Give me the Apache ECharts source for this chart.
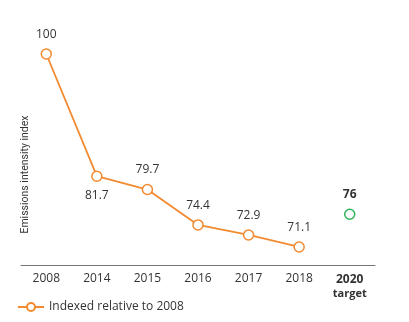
<!DOCTYPE html>
<html><head><meta charset="utf-8">
<script src="https://cdn.jsdelivr.net/npm/echarts@6/dist/echarts.min.js"></script>
<style>html,body{margin:0;padding:0;background:#fff}#c{width:409px;height:322px}</style>
</head><body><div id="c"></div>
<script>
const categories = ['2008','2014','2015','2016','2017','2018','2020'];
const indexedValues = [100, 81.7, 79.7, 74.4, 72.9, 71.1, null];
const targetValues = [null, null, null, null, null, null, 76];
const seriesName = 'Indexed relative to 2008';
const yAxisName = 'Emissions intensity index';

const FONT = 'Open Sans';
const chart = echarts.init(document.getElementById('c'));
chart.setOption({
  animation: false,
  grid: {left: 21, right: 34, top: 54, bottom: 57},
  legend: {
    data: [seriesName], left: 12, top: 296, itemWidth: 26, itemHeight: 10,
    textStyle: {fontFamily: FONT, fontSize: 12, color: '#333'}
  },
  xAxis: {
    type: 'category', data: categories, boundaryGap: true,
    axisLine: {lineStyle: {color: '#777', width: 1}},
    axisTick: {show: false},
    axisLabel: {
      interval: 0,
      fontFamily: FONT, fontSize: 12, color: '#333', margin: 8,
      formatter: (v) => v === '2020' ? '{b|2020}\n{t|target}' : v,
      rich: {
        b: {fontFamily: FONT, fontSize: 12, fontWeight: 'bold', color: '#333', lineHeight: 14},
        t: {fontFamily: FONT, fontSize: 11, fontWeight: 'bold', color: '#333', lineHeight: 13}
      }
    }
  },
  yAxis: {
    type: 'value', min: 68.4, max: 100,
    name: yAxisName, nameLocation: 'middle', nameGap: -10, nameRotate: 90,
    nameTextStyle: {fontFamily: 'Roboto', fontSize: 10.5, color: '#333', verticalAlign: 'bottom', padding: [0, 30, 0, 0]},
    axisLine: {show: false}, axisTick: {show: false}, axisLabel: {show: false},
    splitLine: {show: false}
  },
  series: [
    {
      name: seriesName, type: 'line',
      data: indexedValues.map((v, i) => ({
        value: v,
        label: i === 1 ? {position: 'bottom', distance: 8} : undefined
      })),
      symbol: 'circle', symbolSize: 10,
      itemStyle: {color: '#fff', borderColor: '#F28A30', borderWidth: 1.5},
      lineStyle: {color: '#F28A30', width: 1.8},
      label: {show: true, position: 'top', distance: 8, fontFamily: FONT, fontSize: 12, color: '#333'}
    },
    {
      name: 'target', type: 'line', data: targetValues,
      symbol: 'circle', symbolSize: 10,
      itemStyle: {color: '#fff', borderColor: '#2EB35A', borderWidth: 1.5},
      lineStyle: {width: 0},
      label: {show: true, position: 'top', distance: 8, fontFamily: FONT, fontSize: 12, fontWeight: 'bold', color: '#333'}
    }
  ]
});
</script></body></html>
